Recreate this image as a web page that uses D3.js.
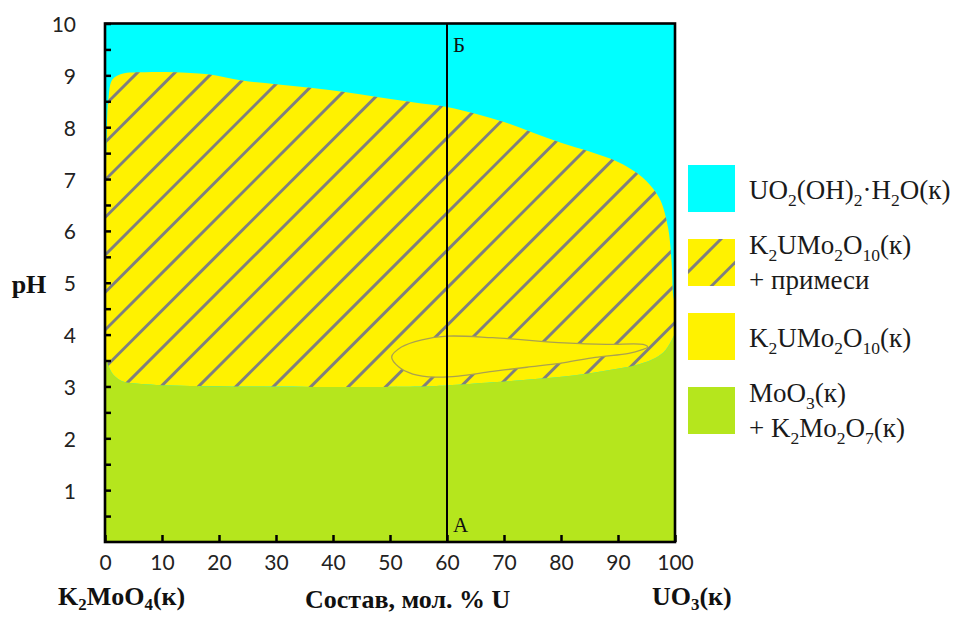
<!DOCTYPE html>
<html>
<head>
<meta charset="utf-8">
<script src="https://cdn.jsdelivr.net/npm/d3@7"></script>
<style>
  body { margin: 0; background: #fff; }
  svg { display: block; }
</style>
</head>
<body>
<svg id="chart" width="953" height="617"></svg>
<script>
// ---- Data -------------------------------------------------------------
// Composition axis (mol. % U) and pH axis
const xTickValues = [0, 10, 20, 30, 40, 50, 60, 70, 80, 90, 100];
const yTickValues = [0.5, 1, 1.5, 2, 2.5, 3, 3.5, 4, 4.5, 5, 5.5, 6, 6.5, 7, 7.5, 8, 8.5, 9, 9.5, 10];

// Boundary between UO2(OH)2·H2O and the K2UMo2O10 (+ impurities) field: [mol.% U, pH]
const upperBoundary = [
  [0, 6.3], [0.25, 7.6], [0.6, 8.55], [1.3, 8.92], [3, 9.03], [7, 9.06], [12, 9.06],
  [18, 9.02], [24, 8.9], [30, 8.83], [36, 8.76], [42, 8.68], [48, 8.58], [54, 8.48],
  [60, 8.39], [65, 8.26], [70, 8.1], [75, 7.9], [80, 7.7], [85, 7.53], [90, 7.33],
  [93, 7.14], [95.5, 6.9], [97.4, 6.6], [98.8, 6.05], [99.4, 5.4], [99.7, 4.75], [100, 4.6]
];

// Boundary between the K2UMo2O10 field and MoO3 + K2Mo2O7: [mol.% U, pH]
const lowerBoundary = [
  [0, 3.6], [0.6, 3.4], [1.5, 3.22], [3, 3.1], [5, 3.06], [9, 3.03], [15, 3.01],
  [25, 3.0], [40, 2.99], [55, 3.0], [60, 3.02], [68, 3.08], [75, 3.14], [80.6, 3.19],
  [87, 3.29], [93, 3.41], [96, 3.52], [98, 3.66], [99.2, 3.85], [100, 4.02]
];

// Region of single-phase K2UMo2O10: [mol.% U, pH]
const pureZone = [
  [50.3, 3.57], [52, 3.76], [55.6, 3.9], [60, 3.97], [68, 3.94], [80.6, 3.84],
  [88, 3.81], [94.4, 3.81], [95.2, 3.76], [94, 3.7], [91.9, 3.64], [86, 3.56],
  [80.6, 3.46], [74, 3.37], [68, 3.29], [62, 3.2], [58, 3.18], [54, 3.24], [51.5, 3.38]
];

// Section A–Б
const sectionU = 60;
const sectionLabels = ["А", "Б"];

// Axis titles
const yTitle = "pH";
const xTitle = "Состав, мол. % U";
const leftEndLabel = "K_2MoO_4(к)";
const rightEndLabel = "UO_3(к)";

// Legend entries (lines of text; "_n" marks a subscript)
const legendLabels = [
  ["UO_2(OH)_2·H_2O(к)"],
  ["K_2UMo_2O_10(к)", "+ примеси"],
  ["K_2UMo_2O_10(к)"],
  ["MoO_3(к)", "+ K_2Mo_2O_7(к)"]
];

// ---- Style ------------------------------------------------------------
const colors = {
  cyan: "#00ffff",
  yellow: "#fff200",
  green: "#b5e61d",
  hatch: "#7f7f7f",
  zoneEdge: "#aaa150"
};
const legendFills = [colors.cyan, "hatched", colors.yellow, colors.green];
const serif = "'Liberation Serif', 'Times New Roman', serif";
const sans = "Lato, 'Open Sans', sans-serif";

// ---- Layout -----------------------------------------------------------
const svg = d3.select("#chart");
const x = d3.scaleLinear().domain([0, 100]).range([105, 675]);
const y = d3.scaleLinear().domain([0, 10]).range([542, 23.5]);

const curve = d3.curveCatmullRom.alpha(0.5);
const line = d3.line().x(d => x(d[0])).y(d => y(d[1])).curve(curve);

// Text with "_n" subscripts rendered as tspans
function richText(sel, str, size, shiftRatio = 0.27) {
  const parts = str.split(/(_\d+)/).filter(s => s.length);
  const shift = Math.round(size * shiftRatio);
  let lowered = false;
  parts.forEach(p => {
    if (p.startsWith("_")) {
      sel.append("tspan").attr("font-size", size * 0.65).attr("dy", lowered ? 0 : shift).text(p.slice(1));
      lowered = true;
    } else {
      sel.append("tspan").attr("dy", lowered ? -shift : 0).text(p);
      lowered = false;
    }
  });
}

const defs = svg.append("defs");

// Hatched field outline
const hatchPath = line(upperBoundary) + line(lowerBoundary.slice().reverse()).replace(/^M/, "L") + "Z";

const legendX = 688, legendTop = 165, legendStep = 74, legendSize = 47;

const clip = defs.append("clipPath").attr("id", "hatch-clip");
clip.append("path").attr("d", hatchPath);
clip.append("rect")
  .attr("x", legendX).attr("y", legendTop + legendStep * legendFills.indexOf("hatched"))
  .attr("width", legendSize).attr("height", legendSize);

const plotClip = defs.append("clipPath").attr("id", "plot-clip");
plotClip.append("rect").attr("x", x(0)).attr("y", y(10)).attr("width", x(100) - x(0)).attr("height", y(0) - y(10));

// Background field: UO2(OH)2·H2O
svg.append("rect")
  .attr("x", x(0)).attr("y", y(10))
  .attr("width", x(100) - x(0)).attr("height", y(0) - y(10))
  .attr("fill", colors.cyan);

const plot = svg.append("g").attr("clip-path", "url(#plot-clip)");

// K2UMo2O10 + impurities field
plot.append("path").attr("d", hatchPath).attr("fill", colors.yellow);

// MoO3 + K2Mo2O7 field
plot.append("path")
  .attr("d", d3.area().x(d => x(d[0])).y0(y(0)).y1(d => y(d[1])).curve(curve)(lowerBoundary))
  .attr("fill", colors.green);

// Legend swatches (drawn before hatching so the hatched one gets its lines)
const legend = svg.append("g");
legendFills.forEach((f, i) => {
  legend.append("rect")
    .attr("x", legendX).attr("y", legendTop + i * legendStep)
    .attr("width", legendSize).attr("height", legendSize)
    .attr("fill", f === "hatched" ? colors.yellow : f);
});

// Diagonal hatching, 45°, clipped to the field and its swatch
const hatchSpacing = 37.5, hatchPhase = 22.5;
const hatchG = svg.append("g").attr("clip-path", "url(#hatch-clip)");
hatchG.selectAll("line")
  .data(d3.range(hatchPhase, 953 + 617 + hatchSpacing, hatchSpacing))
  .join("line")
  .attr("x1", c => c).attr("y1", 0)
  .attr("x2", c => c - 617).attr("y2", 617)
  .attr("stroke", colors.hatch).attr("stroke-width", 3);

// Single-phase K2UMo2O10 region
svg.append("path")
  .attr("d", d3.line().x(d => x(d[0])).y(d => y(d[1])).curve(d3.curveCatmullRomClosed.alpha(0.5))(pureZone))
  .attr("fill", colors.yellow)
  .attr("stroke", colors.zoneEdge)
  .attr("stroke-width", 1.3);

// Section line A–Б
svg.append("line")
  .attr("x1", x(sectionU)).attr("x2", x(sectionU))
  .attr("y1", y(10)).attr("y2", y(0))
  .attr("stroke", "#000").attr("stroke-width", 2);

svg.append("text").attr("x", x(sectionU) + 6).attr("y", y(0) - 10.5)
  .attr("font-family", serif).attr("font-size", 21).attr("fill", "#111").text(sectionLabels[0]);
svg.append("text").attr("x", x(sectionU) + 6).attr("y", y(10) + 28.5)
  .attr("font-family", serif).attr("font-size", 21).attr("fill", "#111").text(sectionLabels[1]);

// Axes with inward ticks
const xAxis = svg.append("g")
  .attr("transform", `translate(0,${y(0)})`)
  .call(d3.axisBottom(x).tickValues(xTickValues).tickSize(-7).tickPadding(13).tickFormat(d3.format("d")));
const yAxis = svg.append("g")
  .attr("transform", `translate(${x(0)},0)`)
  .call(d3.axisLeft(y).tickValues(yTickValues).tickSize(-6).tickPadding(29)
    .tickFormat(d => Number.isInteger(d) ? d : ""));

[xAxis, yAxis].forEach(ax => {
  ax.select(".domain").remove();
  ax.selectAll(".tick line").attr("stroke", "#000").attr("stroke-width", 2.5);
  ax.selectAll(".tick text").attr("font-family", sans).attr("font-size", 21).attr("fill", "#222");
});
yAxis.selectAll(".tick text").attr("dy", "0.38em");

// Frame
svg.append("rect")
  .attr("x", x(0)).attr("y", y(10))
  .attr("width", x(100) - x(0)).attr("height", y(0) - y(10))
  .attr("fill", "none").attr("stroke", "#000").attr("stroke-width", 2.6);

// Axis titles
svg.append("text").attr("x", 29).attr("y", 293).attr("text-anchor", "middle")
  .attr("font-family", serif).attr("font-weight", "bold").attr("font-size", 26).attr("fill", "#111")
  .text(yTitle);
svg.append("text").attr("x", 305).attr("y", 608)
  .attr("font-family", serif).attr("font-weight", "bold").attr("font-size", 26).attr("fill", "#111")
  .text(xTitle);
richText(svg.append("text").attr("x", 58).attr("y", 605)
  .attr("font-family", serif).attr("font-weight", "bold").attr("font-size", 26).attr("fill", "#111"),
  leftEndLabel, 26, 0.2);
richText(svg.append("text").attr("x", 652).attr("y", 605)
  .attr("font-family", serif).attr("font-weight", "bold").attr("font-size", 26).attr("fill", "#111"),
  rightEndLabel, 26, 0.2);

// Legend text
legendLabels.forEach((lines, i) => {
  const top = legendTop + i * legendStep;
  const baselines = lines.length === 1 ? [top + 34] : [top + 14.5, top + 50];
  lines.forEach((ln, j) => {
    richText(legend.append("text")
      .attr("x", 749).attr("y", baselines[j])
      .attr("font-family", serif).attr("font-size", 27).attr("fill", "#1a1a1a"), ln, 27);
  });
});
</script>
</body>
</html>
